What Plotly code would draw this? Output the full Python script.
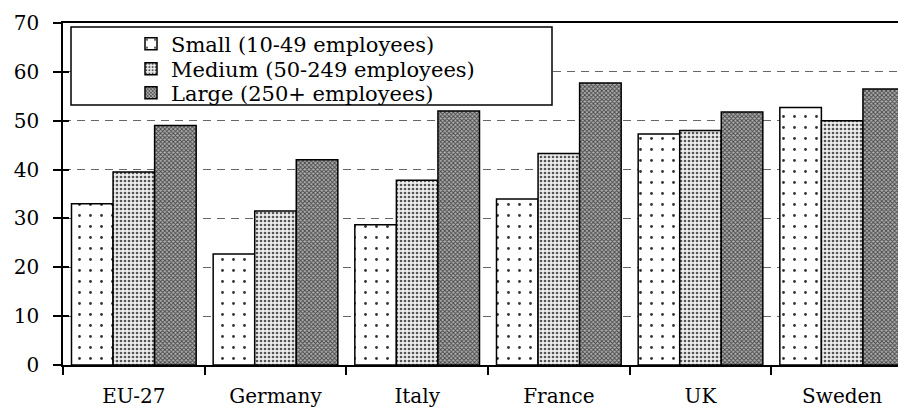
import plotly.graph_objects as go

categories = ["EU-27", "Germany", "Italy", "France", "UK", "Sweden"]
small = [33.0, 22.7, 28.7, 34.0, 47.3, 52.7]
medium = [39.5, 31.5, 37.8, 43.3, 48.0, 50.0]
large = [49.0, 42.0, 52.0, 57.7, 51.8, 56.5]
series_names = ["Small (10-49 employees)", "Medium (50-249 employees)", "Large (250+ employees)"]
y_ticks = [0, 10, 20, 30, 40, 50, 60, 70]

FONT = "DejaVu Serif"
line = dict(color="black", width=1.5)

# plot area geometry (pixels)
L, R, T, B = 55, 1, 15, 52
W, H = 906, 409
PW, PH = W - L - R, H - T - B


def px_x(p):
    return (p - L) / PW


def px_y(p):
    return (H - B - p) / PH


fig = go.Figure()
fig.add_trace(go.Bar(
    x=categories, y=small, name=series_names[0], legend="legend",
    marker=dict(color="white", line=line,
                pattern=dict(shape=".", size=11, solidity=0.05, fgcolor="#333333", bgcolor="white", fillmode="replace")),
))
fig.add_trace(go.Bar(
    x=categories, y=medium, name=series_names[1], legend="legend2",
    marker=dict(color="#e6e6e6", line=line,
                pattern=dict(shape=".", size=4, solidity=0.35, fgcolor="#555555", bgcolor="#eeeeee", fillmode="replace")),
))
fig.add_trace(go.Bar(
    x=categories, y=large, name=series_names[2], legend="legend3",
    marker=dict(color="#888888", line=line,
                pattern=dict(shape="x", size=3, solidity=0.5, fgcolor="#444444", bgcolor="#b0b0b0", fillmode="replace")),
))
# invisible trace on overlay axis to draw inside ticks
fig.add_trace(go.Scatter(x=[categories[0]], y=[0], yaxis="y2", mode="markers",
                         marker=dict(opacity=0), showlegend=False, hoverinfo="skip"))

leg_common = dict(xanchor="left", yanchor="middle", bgcolor="rgba(0,0,0,0)", borderwidth=0,
                  font=dict(family=FONT, size=21, color="black"), itemwidth=30)

fig.update_layout(
    width=W, height=H,
    margin=dict(l=L, r=R, t=T, b=B),
    paper_bgcolor="white", plot_bgcolor="white",
    barmode="group", bargap=0.12, bargroupgap=0,
    font=dict(family=FONT, size=20, color="black"),
    showlegend=True,
    legend=dict(x=px_x(123), y=px_y(36), **leg_common),
    legend2=dict(x=px_x(123), y=px_y(61), **leg_common),
    legend3=dict(x=px_x(123), y=px_y(85), **leg_common),
    xaxis=dict(showline=True, linecolor="black", linewidth=1.5, mirror=True,
               ticks="outside", tickson="boundaries", ticklen=8, tickcolor="black", tickwidth=1.5,
               ticklabelstandoff=12, showgrid=False, zeroline=False,
               tickfont=dict(family=FONT, size=20)),
    yaxis=dict(range=[0, 70], tickvals=y_ticks, showline=True, linecolor="black", linewidth=1.5,
               ticks="outside", ticklen=8, tickcolor="black", tickwidth=1.5,
               ticklabelstandoff=10,
               showgrid=True, gridcolor="#666666", gridwidth=1.2, griddash="8px,6px",
               zeroline=False, tickfont=dict(family=FONT, size=20)),
    yaxis2=dict(range=[0, 70], tickvals=y_ticks, overlaying="y", side="left",
                ticks="inside", ticklen=6, tickcolor="black", tickwidth=1.5,
                showticklabels=False, showgrid=False, zeroline=False, showline=False),
    shapes=[dict(type="rect", xref="paper", yref="paper",
                 x0=px_x(63), x1=px_x(544), y0=px_y(97), y1=px_y(19),
                 fillcolor="white", line=dict(color="black", width=1.5), layer="above")],
)

fig.write_html("out.html")
